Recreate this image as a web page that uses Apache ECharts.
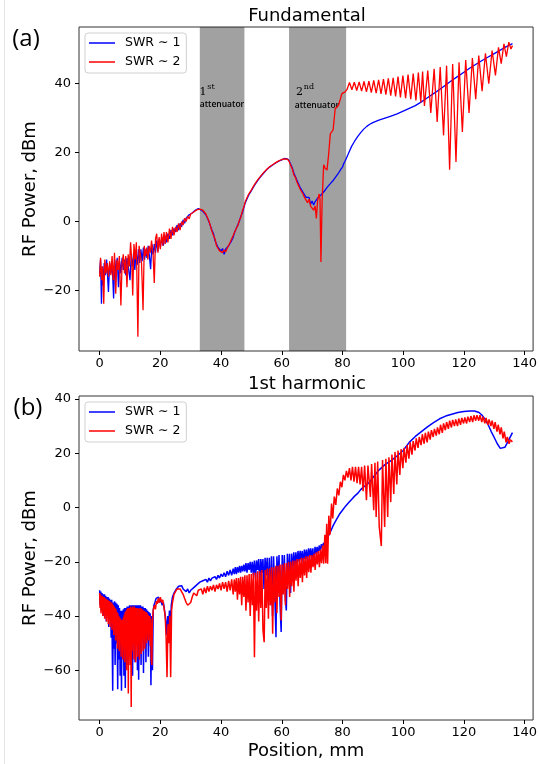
<!DOCTYPE html>
<html>
<head>
<meta charset="utf-8">
<script src="https://cdn.jsdelivr.net/npm/echarts@6.0.0/dist/echarts.min.js"></script>
<style>
  html, body { margin: 0; padding: 0; background: #fff; }
  #chart { width: 540px; height: 764px; }
</style>
</head>
<body>
<div id="chart"></div>
<script>
// tick values
const xTicks = [0, 20, 40, 60, 80, 100, 120, 140]
const fundYTicks = [-20, 0, 20, 40]
const harmYTicks = [-60, -40, -20, 0, 20, 40]

// attenuator positions (mm)
const attenuators = [[33.0, 47.7], [62.4, 81.2]]

// Fundamental, SWR ~ 1
const fundSwr1 = [
  [0,-15],[0.3,-11],[0.6,-23.8],[0.9,-13],[1.2,-18.5],[1.5,-12],[1.9,-15.5],[2.3,-11],[2.9,-20.4],[3.3,-12],
  [3.7,-15],[4.1,-11.5],[4.6,-22.3],[5,-11],[5.4,-15.5],[5.8,-10.5],[6.2,-19],[6.6,-11.5],[7,-15],[7.4,-10.5],
  [7.8,-14],[8.2,-11],[8.6,-15.5],[9,-10.5],[9.5,-13.5],[10,-17],[10.4,-10],[10.8,-13],[11.2,-9],[11.6,-14],
  [12,-8.5],[12.4,-12.5],[12.8,-8],[13.2,-12],[13.6,-8],[14,-11.5],[14.4,-7.5],[14.8,-11],[15.2,-8],[15.6,-10.5],
  [16,-7],[16.4,-10],[16.8,-13.8],[17.2,-6.5],[17.6,-9.5],[18,-6.5],[18.4,-9],[18.8,-5.5],[19.2,-8.5],[19.6,-5],
  [20,-7.5],[20.5,-4.5],[21,-7],[21.5,-4],[22,-6],[22.5,-3.5],[23,-5],[23.5,-2.5],[24,-4],[24.5,-2],
  [25,-3],[25.5,-1],[26,-2.5],[26.5,-0.5],[27,-1.5],[27.5,0.5],[28,-0.5],[28.5,1],[29,0.5],[29.5,2],
  [30,1.5],[30.5,2.5],[31,2.3],[31.5,3.3],[32,3.2],[32.5,3.8],[33,3.6],[34,3],[35,2],[36,0],
  [37,-2.5],[37.5,-3.5],[38,-5.5],[38.5,-6.5],[39,-7.5],[39.5,-8],[40,-8.5],[40.5,-7.8],[41,-9.5],[41.5,-8],
  [42,-8.5],[42.5,-7],[43,-6.5],[43.5,-5.5],[44,-4.5],[44.5,-3],[45,-2.5],[45.5,-1],[46,0],[46.5,1.5],
  [47,2.5],[47.5,4],[48,5.5],[49,7.5],[50,9],[51,10.5],[52,11.8],[53,13],[54,14],[55,15],
  [56,15.8],[57,16.4],[58,17],[59,17.5],[60,17.9],[61,18.3],[61.5,18.4],[62,18.1],[62.5,17.5],[63,16.5],
  [63.5,15.5],[64,14],[64.5,13],[65,12],[65.5,11],[66,10],[66.5,9.5],[67,8.5],[67.5,8],[68,7],
  [68.5,6.5],[69,7],[69.5,5],[70,6],[70.5,4.8],[71,5.8],[71.5,5.3],[72,7],[72.5,6.5],[73,7.8],
  [73.5,7.6],[74,8.8],[74.5,8.6],[75,10],[75.5,10.2],[76,11],[76.5,11.4],[77,12],[77.5,12.6],[78,13],
  [78.5,13.8],[79,14.3],[79.5,15.2],[80,15.8],[80.5,17],[81,17.8],[82,19.8],[83,21.8],[84,23.3],[85,24.6],
  [86,25.8],[87,26.8],[88,27.6],[89,28.2],[90,28.7],[92,29.4],[94,30],[96,30.6],[98,31.2],[100,32],
  [102,32.8],[104,33.6],[106,34.7],[108,35.9],[110,37.1],[112,38.3],[114,39.6],[116,40.9],[118,42.1],[120,43.3],
  [122,44.5],[124,45.6],[126,46.7],[128,47.7],[130,48.7],[132,49.7],[134,50.7],[136,51.6]
]

// Fundamental, SWR ~ 2
const fundSwr2 = [
  [0,-16],[0.3,-10.5],[0.7,-17],[1,-13],[1.35,-23.8],[1.7,-11],[2.1,-15],[2.5,-12],[2.9,-16],[3.3,-11.5],
  [3.7,-15.5],[4.1,-10],[4.5,-17],[4.9,-9],[5.3,-20.9],[5.7,-11],[6.1,-14],[6.5,-10],[7,-24.3],[7.4,-12],
  [7.8,-9.5],[8.2,-15],[8.6,-10],[9,-19],[9.4,-9.5],[9.8,-13],[10.2,-6],[10.6,-12],[10.9,-21.4],[11.3,-6.5],
  [11.7,-11],[12.1,-6],[12.6,-33.4],[13,-7],[13.4,-6.5],[13.8,-12],[14.3,-25.7],[14.7,-7],[15.1,-10],[15.5,-7.5],
  [15.9,-11],[16.3,-7],[16.7,-9],[17.1,-5.5],[17.6,-9.5],[18,-17.8],[18.4,-5],[18.8,-3.5],[19.2,-9],[19.6,-4.5],
  [20,-8],[20.4,-3.5],[20.8,-7],[21.2,-3],[21.6,-6.5],[22,-3],[22.5,-6],[23,-2],[23.5,-5],[24,-1.5],
  [24.5,-4],[25,-1.5],[25.5,-3],[26,-0.5],[26.5,-2.5],[27,0],[27.5,-1],[28,1],[28.5,0],[29,1.5],
  [29.5,0.8],[30,2.2],[30.5,1.7],[31,2.8],[31.5,2.6],[32,3.4],[32.5,3.6],[33,3.6],[34,3.3],[35,2.2],
  [36,0.2],[37,-2.8],[37.5,-4],[38,-5],[38.5,-7],[39,-7],[39.5,-8.5],[40,-8],[40.5,-9],[41,-8.2],
  [41.5,-8.8],[42,-7.8],[42.5,-7.5],[43,-6],[43.5,-5.8],[44,-4],[44.5,-3.5],[45,-2],[45.5,-1.2],[46,0.3],
  [46.5,1.2],[47,3],[47.5,4.2],[48,5.8],[49,7.8],[50,9.2],[51,10.7],[52,12],[53,13.1],[54,14.2],
  [55,15.1],[56,15.9],[57,16.5],[58,17.1],[59,17.6],[60,18],[61,18.2],[61.5,18],[62,18],[62.5,17.3],
  [63,16.2],[63.5,15.2],[64,13.5],[64.5,12.8],[65,11.5],[65.5,10.5],[66,9.5],[66.5,9],[67,8],[67.5,7],
  [68,6.5],[68.5,5.5],[69,6.5],[69.5,4.5],[70,5],[70.5,3.3],[71,4.5],[71.4,0.9],[71.8,6],[72.3,8],
  [72.6,6.5],[72.9,-11.7],[73.3,6],[73.8,16.5],[74.3,15.5],[74.9,14.9],[75.5,20],[76,25.5],[76.5,26],[76.9,26.5],
  [77.3,30],[77.6,32.7],[78.2,33.2],[78.7,33.7],[79.3,35.5],[79.8,37.1],[80.4,37.3],[80.9,37.6],[81.5,38.3],[82.3,40.3],
  [83.1,38.2],[83.9,40.4],[84.7,38],[85.5,40.5],[86.3,37.8],[87.1,40.6],[87.9,37.6],[88.7,40.7],[89.5,37.4],[90.3,40.9],
  [91.1,37.2],[91.9,41.1],[92.7,37],[93.5,41.3],[94.3,36.8],[95.1,41.5],[95.9,36.5],[96.7,41.7],[97.5,36.3],[98.3,42],
  [99.1,36],[99.9,42.3],[100.8,35.8],[101.6,42.6],[102.5,35.5],[103.3,42.9],[104.2,35.1],[105,43.2],[105.8,34.5],[106.4,43.5],
  [107,33.5],[108.1,43.8],[109.1,31.5],[110.2,44.3],[111.2,28.9],[112.2,44.8],[113.3,25],[114.3,45.2],[115.3,15],[116.3,45.7],
  [117.4,17.3],[118.4,46.2],[119.5,26],[120.6,46.8],[121.7,31.5],[122.8,47.4],[123.9,35.5],[124.9,48.1],[126,37.8],[127.1,48.8],
  [128.2,40],[129.3,49.6],[130.4,42.4],[131.4,50.5],[132.3,45.8],[133.2,51.5],[134,47.8],[134.8,52],[135.5,50],[136,51]
]

// 1st harmonic, SWR ~ 1
const harmSwr1 = [
  [0,-30.5],[0.2,-36],[0.4,-31],[0.6,-38],[0.8,-31.5],[1,-37],[1.2,-32],[1.4,-40],[1.6,-32],[1.8,-38],
  [2,-32.5],[2.2,-42],[2.4,-33],[2.6,-39],[2.8,-33],[3,-44],[3.2,-33.5],[3.4,-41],[3.6,-34],[3.8,-48],
  [4,-34],[4.3,-67.5],[4.5,-35],[4.7,-52],[4.9,-34.5],[5.1,-58],[5.3,-35],[5.5,-50],[5.7,-35.5],[5.95,-67],
  [6.15,-36],[6.35,-56],[6.55,-37],[6.75,-62],[6.95,-38],[7.2,-67.5],[7.4,-38],[7.6,-55],[7.8,-37.5],[8,-62],
  [8.2,-37],[8.45,-66.5],[8.65,-37],[8.85,-52],[9.05,-36.5],[9.25,-58],[9.45,-36.5],[9.65,-48],[9.85,-36],[10.05,-55],
  [10.25,-36],[10.45,-47],[10.65,-36],[10.85,-62],[11.05,-36],[11.25,-50],[11.45,-36],[11.65,-57],[11.85,-36],[12.05,-49],
  [12.25,-36],[12.45,-60],[12.65,-36],[12.85,-63.5],[13.05,-36],[13.25,-52],[13.45,-36],[13.65,-58],[13.85,-36.5],[14.05,-48],
  [14.25,-36.5],[14.45,-61],[14.65,-37],[14.85,-50],[15.05,-37],[15.25,-57],[15.45,-37.5],[15.65,-49],[15.85,-38],[16.05,-55],
  [16.25,-38.5],[16.45,-48],[16.65,-39],[16.9,-65.5],[17.15,-40],[17.4,-60],[17.65,-38],[17.9,-36],[18.2,-35],[18.6,-33.5],
  [19,-34],[19.4,-33],[19.8,-35],[20.2,-34],[20.6,-36],[21,-35],[21.4,-38],[21.8,-42],[22.1,-47],[22.4,-40],
  [22.7,-44],[23,-38],[23.3,-45],[23.6,-36],[24,-33],[24.5,-31.5],[25,-30.5],[25.5,-30],[26,-29],[26.5,-29.5],
  [27,-28.8],[27.5,-30],[28,-29.5],[28.5,-31],[29,-30],[29.5,-31.5],[30,-30.5],[30.5,-31],[31,-29.5],[31.5,-29.5],
  [32,-28.5],[32.5,-28],[33,-27.5],[33.5,-28],[34,-27],[34.5,-27.5],[35,-26.5],[35.5,-27.5],[36,-26],[36.5,-27],
  [37,-26],[37.5,-26.5],[38,-25.5],[38.5,-26.5],[39,-25],[39.5,-26],[40,-24.5],[40.5,-25.5],[41,-24],[41.5,-25.5],
  [42,-23.5],[42.5,-25],[43,-23],[43.5,-25],[44,-22.5],[44.35,-24.5],[44.7,-22],[45.05,-24.5],[45.4,-22],[45.75,-24],
  [46.1,-21.5],[46.45,-24],[46.8,-21.5],[47.15,-23.5],[47.5,-21],[47.85,-23.5],[48.2,-20.5],[48.55,-24],[48.9,-20.5],[49.25,-23],
  [49.6,-20],[49.95,-24],[50.3,-20],[50.65,-25],[51,-19.5],[51.35,-26],[51.7,-19.5],[52.05,-23],[52.4,-19],[52.75,-28],
  [53.1,-19],[53.45,-24],[53.8,-19],[54.15,-30],[54.5,-18.5],[54.85,-25],[55.2,-18.5],[55.55,-33],[55.9,-18.5],[56.25,-36],
  [56.6,-18],[56.95,-40],[57.3,-18],[57.65,-30],[58.1,-47.8],[58.4,-18],[58.75,-27],[59.1,-17.5],[59.45,-36],[59.8,-45.9],
  [60.15,-17.5],[60.5,-30],[60.85,-17.5],[61.2,-34],[61.5,-37.9],[61.85,-17],[62.2,-27],[62.55,-17],[62.9,-31.5],[63.25,-17],
  [63.6,-24],[63.95,-16.5],[64.3,-22],[64.65,-16.5],[65,-21],[65.35,-16],[65.7,-20],[66.05,-16],[66.4,-19.5],[66.75,-16],
  [67.1,-21],[67.45,-15.5],[67.8,-19],[68.15,-15.5],[68.5,-20],[68.85,-15],[69.2,-18],[69.55,-15],[69.9,-19],[70.25,-15],
  [70.6,-21.5],[70.95,-14.5],[71.3,-17],[71.65,-14.5],[72,-17],[72.35,-14],[72.7,-16],[73.05,-13.5],[73.4,-15],[73.75,-13],
  [74.1,-14],[74.5,-12.5],[75,-12],[76,-9],[77,-6.5],[78,-4.5],[79,-2.5],[80,-1],[81,0.5],[82,1.8],
  [83,3],[84,4.2],[85,5.2],[86,6.6],[87,7.6],[88,8.4],[89,9.5],[90,11],[92,13.8],[94,15.8],
  [96,17.3],[98,19],[100,21],[102,24],[104,26.2],[106,28],[108,29.7],[110,31.3],[112,32.7],[114,33.7],
  [116,34.4],[118,35],[120,35.4],[122,35.6],[123.5,35.6],[125,35],[126,34],[127,32.5],[128,30.5],[129,28],
  [130,25.8],[131,23.5],[132,21.8],[132.6,21.3],[133.5,22.2],[134.5,24.3],[135.5,26.5],[136,27.6]
]

// 1st harmonic, SWR ~ 2
const harmSwr2 = [
  [0,-31.5],[0.15,-37],[0.3,-32],[0.45,-39],[0.6,-32.5],[0.75,-36],[0.9,-32.5],[1.05,-40],[1.2,-33],[1.35,-38],
  [1.5,-33],[1.65,-41],[1.8,-33.5],[1.95,-37.5],[2.1,-33.5],[2.25,-42],[2.4,-34],[2.55,-39],[2.7,-34],[2.85,-43],
  [3,-34.5],[3.15,-40],[3.3,-34.5],[3.45,-44],[3.6,-35],[3.75,-41],[3.9,-35],[4.05,-45],[4.2,-35.5],[4.35,-42],
  [4.5,-36],[4.65,-47],[4.8,-36.5],[4.95,-44],[5.1,-37],[5.25,-49],[5.4,-37.5],[5.55,-45],[5.7,-38.5],[5.85,-52],
  [6,-39],[6.15,-47],[6.3,-40],[6.45,-53],[6.6,-40.5],[6.75,-48],[6.9,-41],[7.05,-55],[7.2,-41.5],[7.35,-49],
  [7.5,-41.5],[7.65,-56],[7.8,-40.5],[7.95,-50],[8.1,-39.5],[8.25,-57],[8.4,-38.5],[8.55,-51],[8.7,-38],[8.85,-60],
  [9,-37.5],[9.15,-52],[9.3,-37],[9.45,-68.5],[9.6,-37],[9.75,-54],[9.9,-37],[10.05,-58],[10.2,-36.5],[10.4,-73.5],
  [10.55,-37],[10.7,-53],[10.85,-36.5],[11,-50],[11.15,-37],[11.3,-56],[11.45,-36.5],[11.6,-49],[11.75,-37],[11.9,-57],
  [12.05,-37],[12.2,-51],[12.35,-37],[12.5,-55],[12.65,-37.5],[12.8,-50],[12.95,-37],[13.1,-56],[13.25,-37.5],[13.4,-49],
  [13.55,-37],[13.7,-54],[13.85,-37.5],[14,-48],[14.15,-37.5],[14.3,-53],[14.45,-38],[14.6,-47],[14.75,-38],[14.9,-52],
  [15.05,-38.5],[15.2,-46],[15.35,-38.5],[15.5,-50],[15.65,-39],[15.8,-45],[15.95,-39.5],[16.1,-49],[16.25,-40],[16.4,-45],
  [16.55,-40],[16.7,-51],[16.85,-41],[17,-56],[17.2,-58],[17.35,-44],[17.5,-40],[17.65,-38],[17.8,-37],[18.1,-36],
  [18.4,-37.5],[18.7,-34.5],[19,-35.5],[19.3,-33.5],[19.6,-35],[20,-33],[20.4,-35],[20.8,-34],[21.2,-37],[21.6,-40],
  [21.9,-48],[22.2,-62.5],[22.5,-43],[22.8,-50],[23.1,-40],[23.4,-62.5],[23.7,-38],[24,-35],[24.5,-32],[25,-31],
  [25.5,-30],[26,-29.5],[26.5,-30],[27,-30.5],[27.5,-32],[28,-33.5],[28.5,-35],[29,-36],[29.5,-36.7],[30,-35],
  [30.5,-33],[31,-31.5],[31.5,-31.5],[32,-32.5],[32.5,-30.5],[33,-31],[33.5,-30],[34,-32],[34.5,-29.5],[35,-31.5],
  [35.5,-29],[36,-31],[36.5,-29],[37,-30.5],[37.5,-28.5],[38,-31],[38.5,-28.5],[39,-30],[39.5,-28],[40,-30.5],
  [40.5,-27.5],[41,-30],[41.5,-27.5],[42,-31],[42.5,-27],[43,-30.5],[43.5,-26.5],[44,-32],[44.35,-26.5],[44.7,-31],
  [45.05,-26],[45.4,-34],[45.75,-26],[46.1,-32],[46.45,-25.5],[46.8,-36],[47.15,-25.5],[47.5,-33],[47.85,-25],[48.2,-38],
  [48.55,-25],[48.9,-35],[49.25,-24.5],[49.6,-40],[49.95,-24.5],[50.3,-36],[50.65,-24],[51,-55.2],[51.35,-24],[51.7,-38],
  [52.05,-23.5],[52.4,-42],[52.75,-23.5],[53.1,-37],[53.45,-23],[53.8,-45],[54.2,-49.6],[54.55,-23],[54.9,-37],[55.25,-22.5],
  [55.6,-41],[55.95,-22.5],[56.3,-36],[56.65,-22],[57,-46.5],[57.35,-22],[57.7,-35],[58.05,-21.5],[58.4,-39],[58.75,-21.5],
  [59.1,-33],[59.45,-21],[59.8,-41.6],[60.15,-21],[60.5,-32],[60.85,-20.5],[61.2,-36],[61.55,-20.5],[61.9,-30],[62.25,-20],
  [62.6,-33],[62.95,-20],[63.3,-29],[63.65,-19.5],[64,-31],[64.35,-19.5],[64.7,-27],[65.05,-19],[65.4,-29],[65.75,-19],
  [66.1,-26],[66.45,-18.5],[66.8,-27.5],[67.15,-18.5],[67.5,-25],[67.85,-18],[68.2,-26],[68.55,-18],[68.9,-23.8],[69.25,-17.5],
  [69.6,-24],[69.95,-17.5],[70.3,-22],[70.65,-17],[71,-23],[71.35,-16.5],[71.7,-21],[72.05,-16],[72.4,-22],[72.75,-15.5],
  [73.1,-20.5],[73.45,-14],[73.8,-20.7],[74.2,-10],[74.5,-20.5],[74.8,-6],[75.1,-20.7],[75.5,-3],[75.9,-10],[76.4,1.5],
  [76.8,-4],[77.3,4],[77.8,1],[78.3,7],[78.8,4.5],[79.3,9.5],[79.8,7.5],[80.3,12],[80.8,10],[81.3,13.5],
  [81.8,11],[82.3,14.5],[82.8,10],[83.3,15],[83.8,9.5],[84.3,15],[84.8,9],[85.3,15],[85.8,8.5],[86.3,15],
  [86.8,6],[87.3,15.5],[87.9,2.7],[88.4,15.5],[89.2,3.9],[89.6,16],[90.3,-1],[90.7,16.5],[91.1,-3.5],[91.6,17],
  [92.1,-7],[92.8,-14.2],[93.2,17.5],[93.9,-7.2],[94.3,18],[94.9,-3.5],[95.3,18.5],[95.9,2],[96.3,19.5],[96.9,5],
  [97.3,20.5],[97.9,8.5],[98.3,21],[98.9,12],[99.3,21.5],[99.9,14.5],[100.3,22],[100.9,16.5],[101.3,23],[101.9,18],
  [102.3,24],[102.9,19.5],[103.3,24.5],[103.9,21],[104.3,25.5],[104.9,22],[105.3,26],[105.9,23],[106.3,27],[106.9,23.5],
  [107.3,27.5],[107.9,24],[108.3,28],[108.9,25],[109.3,28.5],[109.9,26],[110.3,29],[110.9,26.5],[111.3,29.5],[111.9,27],
  [112.3,30.5],[112.9,27.5],[113.3,31],[113.9,28.5],[114.3,31.5],[114.9,29],[115.3,32],[115.9,29.5],[116.3,32.3],[116.9,30],
  [117.3,32.5],[117.9,30],[118.3,32.8],[118.9,30.5],[119.3,33],[119.9,31],[120.3,33.2],[120.9,31],[121.3,33.5],[121.9,31.5],
  [122.3,33.7],[122.9,31.5],[123.3,34],[123.9,32],[124.3,34],[124.9,32],[125.3,34],[125.9,31.5],[126.3,33.5],[126.9,31],
  [127.3,33],[127.9,30.5],[128.3,32.5],[128.9,30],[129.3,32],[129.9,29],[130.3,31.5],[130.9,28],[131.3,30.5],[131.9,27],
  [132.3,29.5],[132.9,25.5],[133.3,28],[133.9,24],[134.3,26],[134.9,23.5],[135.3,25],[136,24.2]
]

const BLUE = '#0000ff'
const RED = '#ff0000'
const FONT = 'DejaVu Sans'
const minus = v => String(v).replace('-', '\u2212')

const chart = echarts.init(document.getElementById('chart'), null, { renderer: 'canvas' })

function xAxisOf(gridIndex, name) {
  return {
    type: 'value',
    gridIndex,
    min: -6.8,
    max: 142.8,
    name: name || '',
    nameLocation: 'middle',
    nameGap: 22,
    nameMoveOverlap: false,
    nameTextStyle: { fontFamily: FONT, fontSize: 18, color: '#000' },
    splitLine: { show: false },
    axisLine: { show: false, onZero: false },
    axisTick: { show: true, inside: false, length: 4, lineStyle: { color: '#000' }, customValues: xTicks },
    axisLabel: { fontFamily: FONT, fontSize: 13, color: '#000', margin: 6, formatter: minus, customValues: xTicks }
  }
}

function yAxisOf(gridIndex, min, max, ticks) {
  return {
    type: 'value',
    gridIndex,
    min,
    max,
    name: 'RF Power, dBm',
    nameLocation: 'middle',
    nameGap: 40,
    nameMoveOverlap: false,
    nameTextStyle: { fontFamily: FONT, fontSize: 18, color: '#000' },
    splitLine: { show: false },
    axisLine: { show: false, onZero: false },
    axisTick: { show: true, inside: false, length: 4, lineStyle: { color: '#000' }, customValues: ticks },
    axisLabel: { fontFamily: FONT, fontSize: 13, color: '#000', margin: 8, formatter: minus, customValues: ticks }
  }
}

function legendOf(top) {
  return {
    data: ['SWR \u223c 1', 'SWR \u223c 2'],
    orient: 'vertical',
    left: 85,
    top,
    icon: 'rect',
    itemWidth: 26,
    itemHeight: 1.5,
    itemGap: 5,
    padding: [3, 6, 4, 4],
    backgroundColor: '#fff',
    borderColor: '#d0d0d0',
    borderWidth: 1,
    borderRadius: 3,
    textStyle: { fontFamily: FONT, fontSize: 12.5, color: '#000', lineHeight: 14, padding: [0, 0, 0, 5] }
  }
}

function label(text, x, y, size, extra) {
  return {
    type: 'text', x, y, silent: true,
    style: Object.assign({ text, fontFamily: FONT, fontSize: size, fill: '#000', align: 'center', verticalAlign: 'middle' }, extra || {})
  }
}

const lineSeries = (name, xi, data, color, width, z) => ({
  name, type: 'line', xAxisIndex: xi, yAxisIndex: xi, data,
  showSymbol: false, symbol: 'none', color, lineStyle: { color, width }, z
})

chart.setOption({
  animation: false,
  backgroundColor: '#fff',
  grid: [
    { left: 79, right: 4, top: 27, height: 324, show: true, borderColor: '#333', borderWidth: 1, backgroundColor: 'transparent' },
    { left: 79, right: 4, top: 396, height: 324, show: true, borderColor: '#333', borderWidth: 1, backgroundColor: 'transparent' }
  ],
  xAxis: [xAxisOf(0), xAxisOf(1, 'Position, mm')],
  yAxis: [yAxisOf(0, -37.5, 56.4, fundYTicks), yAxisOf(1, -78.3, 41.1, harmYTicks)],
  legend: [legendOf(33), legendOf(402)],
  series: [
    lineSeries('SWR \u223c 1', 0, fundSwr1, BLUE, 1.3, 2),
    lineSeries('SWR \u223c 2', 0, fundSwr2, RED, 1.3, 3),
    {
      name: 'bands', type: 'line', xAxisIndex: 0, yAxisIndex: 0, data: [], z: 4, silent: true,
      markArea: {
        silent: true,
        itemStyle: { color: 'rgba(0,0,0,0.37)' },
        data: attenuators.map(([a, b]) => [{ xAxis: a }, { xAxis: b }])
      }
    },
    lineSeries('SWR \u223c 1', 1, harmSwr1, BLUE, 1.5, 2),
    lineSeries('SWR \u223c 2', 1, harmSwr2, RED, 1.5, 3)
  ],
  graphic: [
    { type: 'line', silent: true, shape: { x1: 4.5, y1: 0, x2: 4.5, y2: 764 }, style: { stroke: '#e4e4e4', lineWidth: 1 } },
    label('Fundamental', 307, 16, 18),
    label('1st harmonic', 307, 384, 18),
    label('(a)', 26, 39, 24, { fontFamily: 'Open Sans' }),
    label('(b)', 28, 408, 24, { fontFamily: 'Open Sans' }),
    label('1', 203, 92, 11, { fontFamily: 'DejaVu Serif' }),
    label('st', 211, 87, 8, { fontFamily: 'DejaVu Serif' }),
    label('attenuator', 222, 105, 8.5, { fontFamily: 'Open Sans', fontWeight: 600 }),
    label('2', 299.5, 92, 11, { fontFamily: 'DejaVu Serif' }),
    label('nd', 309, 87, 8, { fontFamily: 'DejaVu Serif' }),
    label('attenuator', 317, 106, 8.5, { fontFamily: 'Open Sans', fontWeight: 600 })
  ]
})
</script>
</body>
</html>
